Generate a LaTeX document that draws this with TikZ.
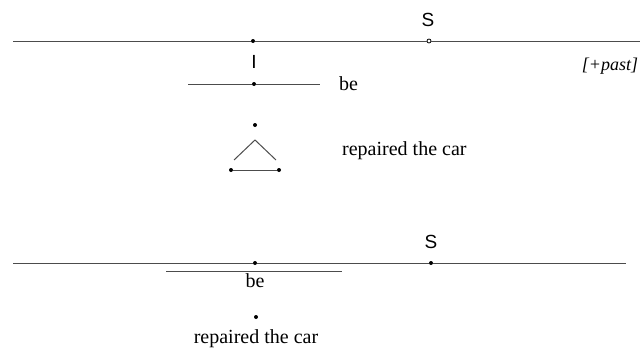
\documentclass[tikz,border=0pt]{standalone}
\usepackage{fontspec}
\setmainfont{Liberation Serif}
\setsansfont{Liberation Sans}
\begin{document}
\begin{tikzpicture}[x=1pt,y=-1pt,
  ln/.style={draw=black!70,line width=1pt},
  dotc/.style={circle,fill=black,inner sep=0pt,minimum size=4pt},
  odot/.style={circle,draw=black,fill=white,line width=0.8pt,inner sep=0pt,minimum size=4pt},
  lbl/.style={inner sep=0pt,font=\fontsize{20}{24}\selectfont},
  slbl/.style={inner sep=0pt,font=\fontsize{19}{22}\selectfont\sffamily}]
\useasboundingbox (0,0) rectangle (640,348);
% top tree
\coordinate (l1a) at (13,41);
\coordinate (l1b) at (640,41);
\node[dotc] (d1) at (253,41) {};
\node[odot] (s1) at (429,41) {};
\node[slbl,anchor=base] (S1) at (428,26) {S};
\draw[ln] (l1a) -- (d1) -- (s1) -- (l1b);
\node[slbl,anchor=base] (I) at (254,68) {I};
\node[lbl,anchor=base,font=\fontsize{18}{20}\selectfont\itshape] (past) at (610,70) {[+past]};
\coordinate (l2a) at (188,84);
\coordinate (l2b) at (320,84);
\node[dotc] (d2) at (254,84) {};
\draw[ln] (l2a) -- (d2) -- (l2b);
\node[lbl,anchor=base west] (be1) at (339,90) {be};
% triangle
\node[dotc] (t0) at (255,125) {};
\coordinate (ap) at (255,140);
\coordinate (tl) at (234,160);
\coordinate (tr) at (276,160);
\draw[ln] (tl) -- (ap) -- (tr);
\node[dotc] (bl) at (231,170) {};
\node[dotc] (br) at (279,170) {};
\draw[ln] (bl) -- (br);
\node[lbl,anchor=base west] (rc1) at (342,155) {repaired the car};
% bottom tree
\coordinate (l3a) at (13,263);
\coordinate (l3b) at (626,263);
\node[dotc] (d3) at (255,263) {};
\node[dotc] (s3) at (431,263) {};
\node[slbl,anchor=base] (S2) at (431,248) {S};
\draw[ln] (l3a) -- (d3) -- (s3) -- (l3b);
\coordinate (u1) at (166,271);
\coordinate (u2) at (342,271);
\draw[ln] (u1) -- (u2);
\node[lbl,anchor=base] (be2) at (255,287) {be};
\node[dotc] (d4) at (256,317) {};
\node[lbl,anchor=base] (rc2) at (256,343) {repaired the car};
\end{tikzpicture}
\end{document}
